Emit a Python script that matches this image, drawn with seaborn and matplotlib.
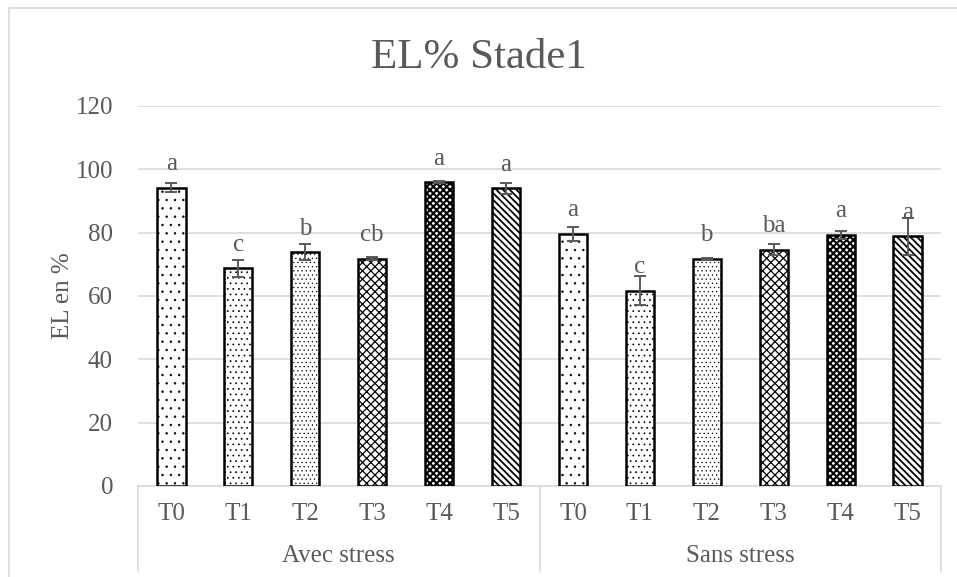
import matplotlib
matplotlib.use("Agg")
import matplotlib.pyplot as plt
import seaborn as sns
import pandas as pd

# Data
treatments = ["T0", "T1", "T2", "T3", "T4", "T5"]
groups = ["Avec stress", "Sans stress"]
avec_values = [94.2, 68.7, 73.8, 71.8, 96.0, 94.0]
sans_values = [79.6, 61.7, 71.8, 74.6, 79.3, 78.8]
avec_err = [1.5, 2.8, 2.5, 0.4, 0.2, 1.8]
sans_err = [2.2, 4.5, 0.3, 1.8, 1.2, 5.8]
avec_letters = ["a", "c", "b", "cb", "a", "a"]
sans_letters = ["a", "c", "b", "ba", "a", "a"]

rows = []
for g, vals, errs, lets in [(groups[0], avec_values, avec_err, avec_letters),
                            (groups[1], sans_values, sans_err, sans_letters)]:
    for t, v, e, l in zip(treatments, vals, errs, lets):
        rows.append({"key": f"{g}|{t}", "group": g, "trt": t, "EL": v, "err": e, "letter": l})
df = pd.DataFrame(rows)
order = list(df["key"])

sns.set_theme(style="white")
plt.rcParams["font.family"] = ["Liberation Serif", "DejaVu Serif"]
grey = "#595959"
fs = 18

fig = plt.figure(figsize=(9.57, 5.77), dpi=100)
ax = fig.add_axes([138 / 957, 1 - 486 / 577, (941 - 138) / 957, (486 - 106) / 577])

sns.barplot(data=df, x="key", y="EL", order=order, color="white", width=0.42,
            errorbar=None, edgecolor="black", linewidth=1.8, ax=ax, zorder=3)

# fill patterns per treatment, with the line weight used for each one
hatches = [("..", 0.5), ("...", 0.5), ("....", 0.4), ("xxxx", 0.9), ("xxxxx", 1.5), ("\\\\\\\\\\", 1.3)]
for i, p in enumerate(ax.patches):
    h, lw = hatches[i % 6]
    p.set_hatch(h)
    if hasattr(p, "set_hatch_linewidth"):
        p.set_hatch_linewidth(lw)
    p.set_facecolor("white")
    p.set_edgecolor("black")

xs = list(range(len(order)))
ax.errorbar(xs, df["EL"], yerr=df["err"], fmt="none", ecolor=grey,
            elinewidth=1.4, capsize=4, capthick=1.4, zorder=4)

for x, v, l in zip(xs, df["EL"], df["letter"]):
    ax.text(x, v + 7.4, l, ha="center", va="center", fontsize=fs, color=grey, zorder=5)

ax.set_ylim(0, 120)
ax.set_yticks(range(0, 121, 20))
ax.set_xlim(-0.5, len(order) - 0.5)
ax.yaxis.grid(True, color="#d9d9d9", linewidth=1.2)
ax.set_axisbelow(True)
for s in ["top", "right", "left"]:
    ax.spines[s].set_visible(False)
ax.spines["bottom"].set_color("#d9d9d9")
ax.spines["bottom"].set_linewidth(1.2)
ax.tick_params(axis="y", length=0, labelsize=fs, labelcolor=grey, pad=18)
ax.tick_params(axis="x", length=0, labelsize=fs, labelcolor=grey, pad=12)
ax.set_xticks(xs)
ax.set_xticklabels(list(df["trt"]))
ax.set_xlabel("")
ax.set_ylabel("EL en %", fontsize=fs, color=grey, labelpad=1)

# group labels and separators beneath the category axis
trans = ax.get_xaxis_transform()
for xpos in [-0.5, 5.5, 11.5]:
    ax.plot([xpos, xpos], [0, -86 / 380], transform=trans, color="#d9d9d9",
            linewidth=1.2, clip_on=False)
for gi, g in enumerate(groups):
    ax.text(gi * 6 + 2.5, -70 / 380, g, transform=trans, ha="center", va="center",
            fontsize=fs, color=grey)

fig.text(0.5, 1 - 58 / 577, "EL% Stade1", ha="center", va="center", fontsize=31, color=grey)

# chart frame
frame = plt.Rectangle((9 / 957, -0.05), 1.5, 1 - 8 / 577 + 0.05, transform=fig.transFigure,
                      fill=False, edgecolor="#d9d9d9", linewidth=1.2)
fig.patches.append(frame)

fig.savefig("out.png", dpi=100)
